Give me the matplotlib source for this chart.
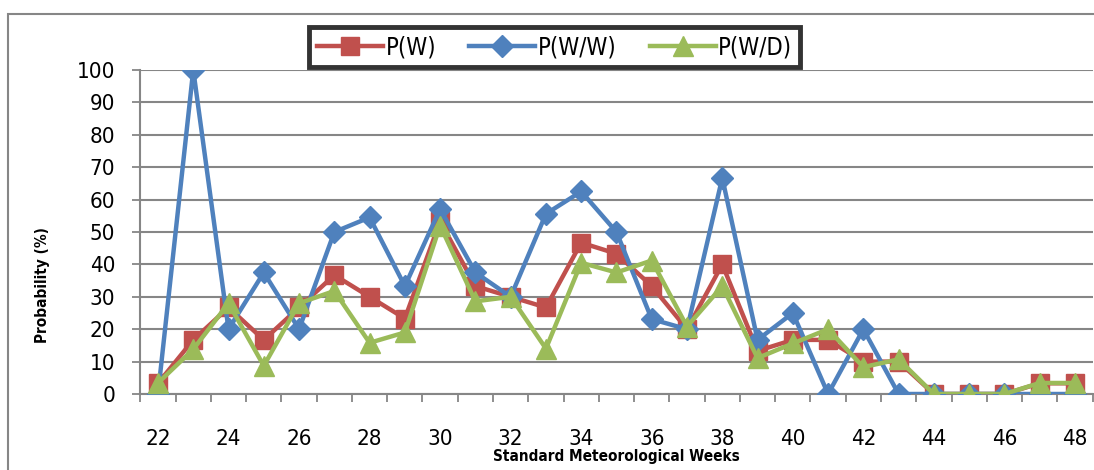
import numpy as np
import matplotlib.pyplot as plt
from matplotlib.patches import Rectangle

plt.rcParams['font.family'] = ['DejaVu Sans']
plt.rcParams['font.stretch'] = 'condensed'

# Данные: недели и вероятности
weeks = list(range(22, 49))
p_w = [3.3, 16.7, 26.7, 16.7, 26.7, 36.7, 30.0, 23.3, 53.3, 33.3, 30.0, 26.7, 46.7, 43.3,
       33.3, 20.0, 40.0, 13.3, 16.7, 16.7, 10.0, 10.0, 0.0, 0.0, 0.0, 3.3, 3.3]
p_ww = [0.0, 100.0, 20.0, 37.5, 20.0, 50.0, 54.5, 33.3, 57.1, 37.5, 30.0, 55.6, 62.5, 50.0,
        23.1, 20.0, 66.7, 16.7, 25.0, 0.0, 20.0, 0.0, 0.0, 0.0, 0.0, 0.0, 0.0]
p_wd = [3.4, 13.8, 28.0, 8.7, 28.0, 31.8, 15.8, 19.0, 52.0, 28.6, 30.0, 14.0, 40.5, 37.5,
        41.2, 20.8, 33.3, 11.1, 15.6, 20.0, 8.3, 10.7, 0.0, 0.0, 0.0, 3.4, 3.4]
xtick_labels = [str(w) for w in range(22, 49, 2)]

red = '#C0504D'
blue = '#4F81BD'
green = '#9BBB59'
grid_col = '#868686'

fig = plt.figure(figsize=(10.94, 4.70), dpi=100)
ax = fig.add_axes([0.1283, 0.1617, 0.8704, 0.6894])

ax.plot(weeks, p_w, color=red, lw=3.2, marker='s', ms=13, label='P(W)', zorder=3)
ax.plot(weeks, p_ww, color=blue, lw=3.2, marker='D', ms=11, label='P(W/W)', zorder=4)
ax.plot(weeks, p_wd, color=green, lw=3.2, marker='^', ms=14, label='P(W/D)', zorder=5)

ax.set_xlim(21.5, 48.5)
ax.set_ylim(0, 100)
ax.set_yticks(np.arange(0, 101, 10))
ax.set_xticks(range(22, 49, 2))
ax.set_xticklabels(xtick_labels)
ax.set_xticks(np.arange(21.5, 48.6, 1), minor=True)
ax.tick_params(axis='x', which='major', length=0, pad=25, labelsize=16)
ax.tick_params(axis='x', which='minor', length=6, width=1.3, color=grid_col)
ax.tick_params(axis='y', length=6, width=1.3, color=grid_col, labelsize=16, pad=12)
ax.yaxis.grid(True, color=grid_col, lw=1.5)
ax.set_axisbelow(True)
for s in ['top', 'right']:
    ax.spines[s].set_visible(False)
for s in ['left', 'bottom']:
    ax.spines[s].set_color(grid_col)
    ax.spines[s].set_linewidth(1.5)

ax.set_xlabel('Standard Meteorological Weeks', fontsize=11, fontweight='bold', labelpad=0)
fig.text(0.039, 0.394, 'Probability (%)', rotation=90, fontsize=11, fontweight='bold',
         ha='center', va='center')

leg = fig.legend(loc='center', bbox_to_anchor=(0.507, 0.90), ncol=3, fontsize=17,
                 frameon=True, fancybox=False, edgecolor='black', handlelength=2.8,
                 columnspacing=1.4, handletextpad=0.1, borderpad=0.35)
leg.get_frame().set_linewidth(3.5)

# Рамка вокруг всей диаграммы
fig.patches.append(Rectangle((0.007, -0.05), 1.1, 1.02, transform=fig.transFigure,
                             fill=False, edgecolor=grid_col, lw=1.5))

fig.savefig('out.png', dpi=100)
